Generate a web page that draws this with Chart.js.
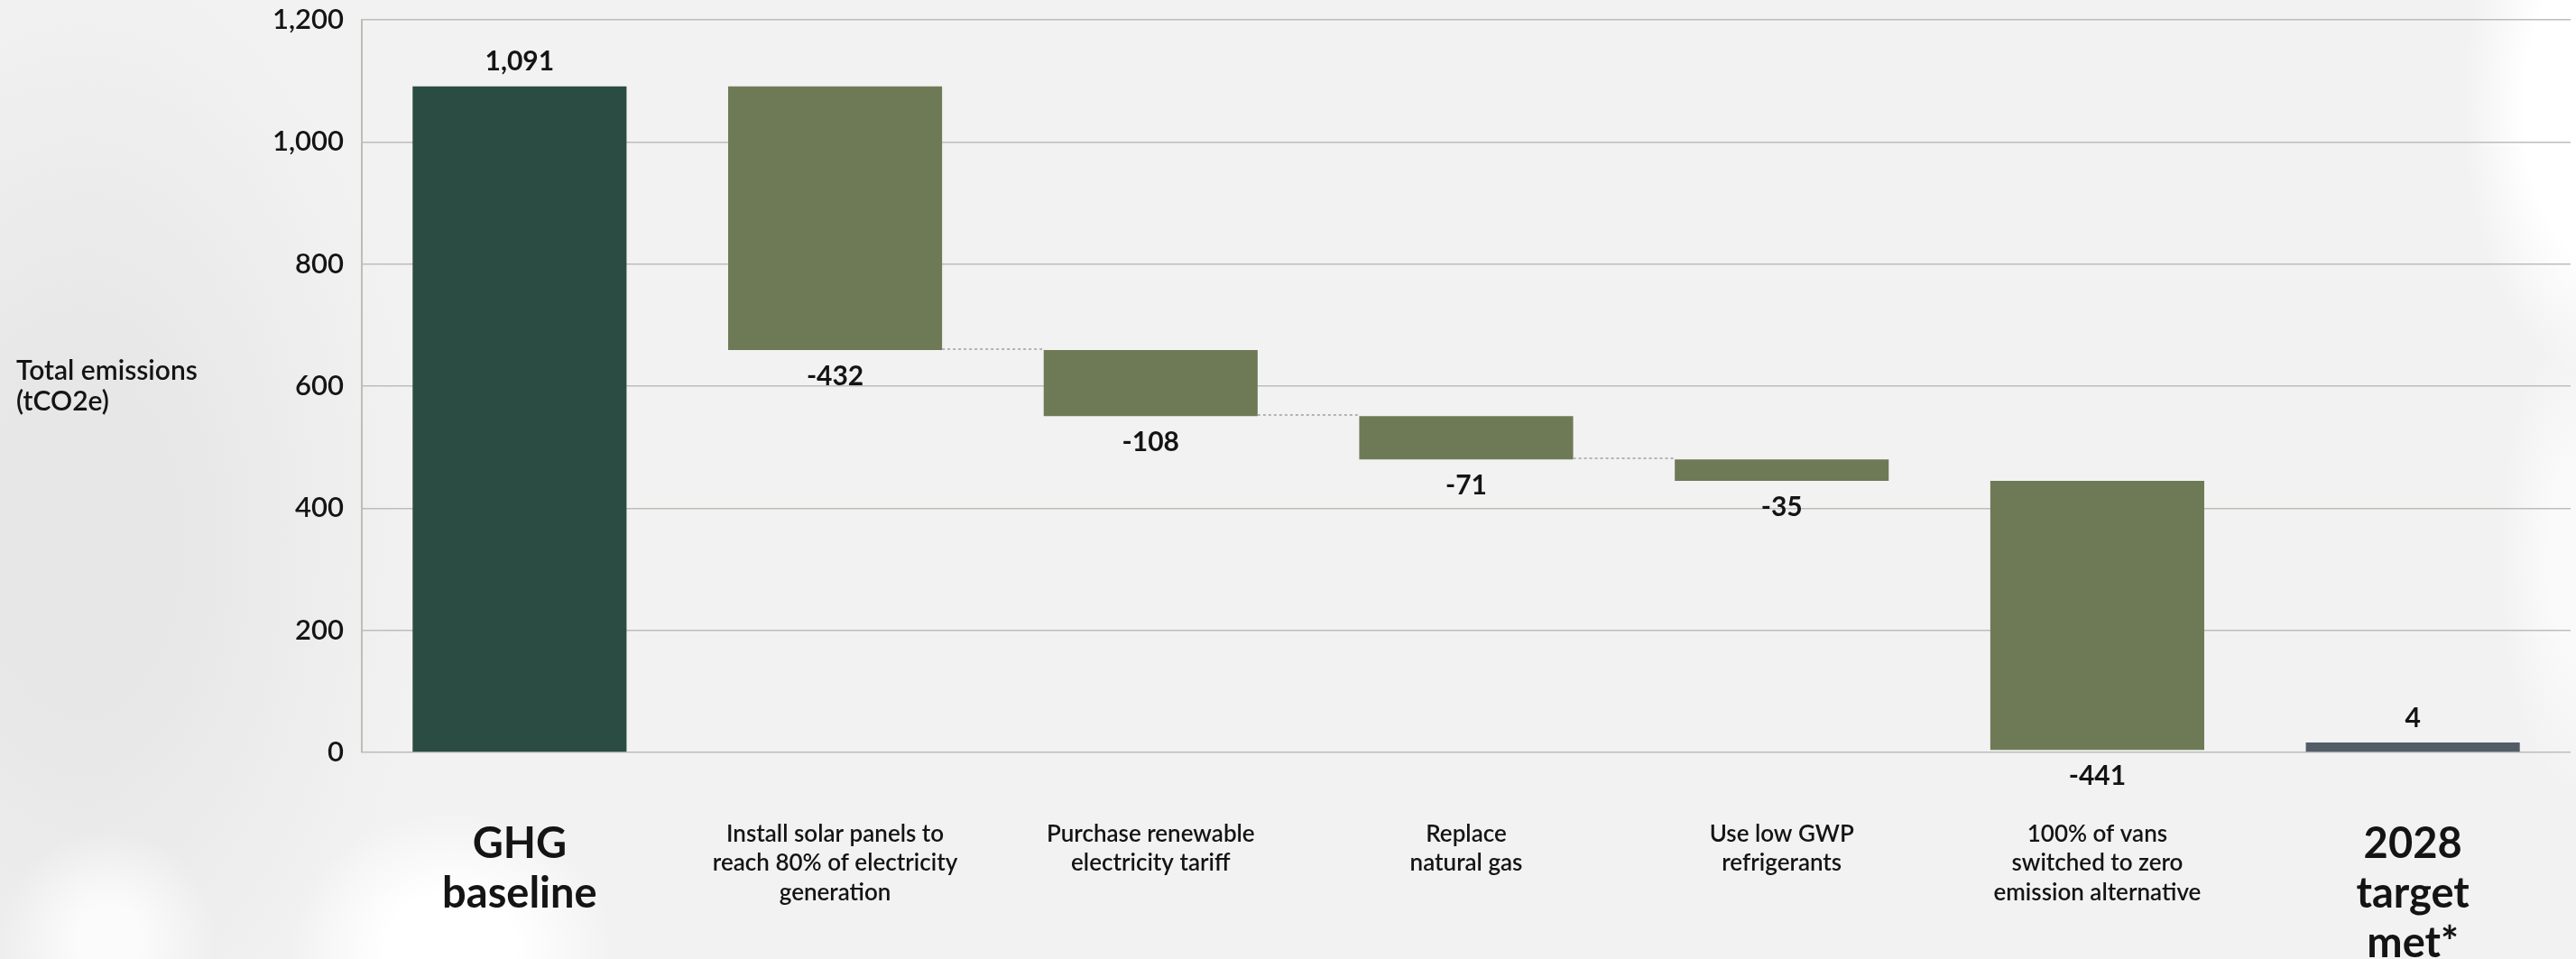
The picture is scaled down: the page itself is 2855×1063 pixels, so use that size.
<!DOCTYPE html>
<html>
<head>
<meta charset="utf-8">
<script src="https://cdn.jsdelivr.net/npm/chart.js@4.4.1/dist/chart.umd.min.js"></script>
<style>
  html, body {
    margin: 0;
    padding: 0;
    width: 2855px;
    height: 1063px;
    overflow: hidden;
    background-color: #f2f2f2;
    background-image:
      radial-gradient(ellipse 150px 300px at 2880px 120px, #ffffff 55%, rgba(255,255,255,0) 100%),
      radial-gradient(ellipse 90px 260px at 2860px 620px, #fafafa 40%, rgba(250,250,250,0) 100%),
      radial-gradient(ellipse 180px 150px at 500px 1050px, #ffffff 40%, rgba(255,255,255,0) 100%),
      radial-gradient(ellipse 120px 120px at 120px 1040px, #fbfbfb 30%, rgba(251,251,251,0) 100%),
      radial-gradient(ellipse 380px 650px at 90px 600px, #e7e7e7 30%, rgba(231,231,231,0) 100%);
  }
  #wrap {
    position: absolute;
    left: 0;
    top: 0;
    width: 2855px;
    height: 1063px;
  }
</style>
</head>
<body>
<div id="wrap"><canvas id="emissionsChart"></canvas></div>
<script>
// waterfall: baseline, reduction steps, remaining total
const categories = [
  ["GHG", "baseline"],
  ["Install solar panels to", "reach 80% of electricity", "generation"],
  ["Purchase renewable", "electricity tariff"],
  ["Replace", "natural gas"],
  ["Use low GWP", "refrigerants"],
  ["100% of vans", "switched to zero", "emission alternative"],
  ["2028", "target", "met*"]
];
const baselineValue = 1091;
const reductions = [-432, -108, -71, -35, -441];
const targetValue = 4;
const yTicks = [0, 200, 400, 600, 800, 1000, 1200];
const yTitle = ["Total emissions", "(tCO2e)"];

const FONT = "Lato, 'Open Sans', sans-serif";
const TEXT = "#141414";

// floating bars built from the running total
const barData = [[0, baselineValue]];
const stepValues = [baselineValue];
let running = baselineValue;
reductions.forEach((r) => {
  barData.push([running, running + r]);
  stepValues.push(r);
  running += r;
});
barData.push(targetValue);
stepValues.push(targetValue);

const barColors = ["#2b4c43"]
  .concat(reductions.map(() => "#6e7a55"))
  .concat(["#535d68"]);

// dotted links between consecutive reduction bars
const connectorFrom = [1, 2, 3];

const valueLabels = {
  id: "valueLabels",
  afterDatasetsDraw(chart) {
    const ctx = chart.ctx;
    const meta = chart.getDatasetMeta(0);
    ctx.save();
    ctx.font = "700 30px " + FONT;
    ctx.fillStyle = TEXT;
    ctx.textAlign = "center";
    ctx.textBaseline = "middle";
    meta.data.forEach((bar, i) => {
      const v = stepValues[i];
      const top = Math.min(bar.y, bar.base);
      const bottom = Math.max(bar.y, bar.base);
      const text = v.toLocaleString("en-US");
      if (v < 0) {
        ctx.fillText(text, bar.x, bottom + 29);
      } else {
        ctx.fillText(text, bar.x, top - 27);
      }
    });
    ctx.restore();
  }
};

const connectors = {
  id: "connectors",
  afterDatasetsDraw(chart) {
    const ctx = chart.ctx;
    const meta = chart.getDatasetMeta(0);
    const y = chart.scales.y;
    ctx.save();
    ctx.strokeStyle = "#b3b3b3";
    ctx.lineWidth = 2;
    ctx.setLineDash([3, 3]);
    connectorFrom.forEach((i) => {
      const a = meta.data[i];
      const b = meta.data[i + 1];
      const level = barData[i][1];
      const py = Math.round(y.getPixelForValue(level)) - 1;
      ctx.beginPath();
      ctx.moveTo(a.x + a.width / 2, py);
      ctx.lineTo(b.x - b.width / 2, py);
      ctx.stroke();
    });
    ctx.restore();
  }
};

const sideTitle = {
  id: "sideTitle",
  afterDraw(chart) {
    const ctx = chart.ctx;
    const area = chart.chartArea;
    const mid = (area.top + area.bottom) / 2;
    ctx.save();
    ctx.font = "600 30px " + FONT;
    ctx.fillStyle = TEXT;
    ctx.textAlign = "left";
    ctx.textBaseline = "middle";
    ctx.fillText(yTitle[0], 18, mid - 17);
    ctx.fillText(yTitle[1], 18, mid + 17);
    ctx.restore();
  }
};

const bigTick = (i) => i === 0 || i === categories.length - 1;

new Chart(document.getElementById("emissionsChart"), {
  type: "bar",
  data: {
    labels: categories,
    datasets: [
      {
        data: barData,
        backgroundColor: barColors,
        borderWidth: 0,
        borderSkipped: false,
        categoryPercentage: 1,
        barPercentage: 0.678,
        minBarLength: 11
      }
    ]
  },
  options: {
    responsive: true,
    maintainAspectRatio: false,
    animation: false,
    layout: { padding: { top: 22, right: 6, left: 0, bottom: 0 } },
    plugins: {
      legend: { display: false },
      tooltip: { enabled: false }
    },
    scales: {
      x: {
        grid: { display: false, drawTicks: false },
        border: { display: false },
        ticks: {
          autoSkip: false,
          maxRotation: 0,
          minRotation: 0,
          padding: 74,
          color: TEXT,
          font: (c) =>
            bigTick(c.index)
              ? { family: FONT, size: 47, weight: "700", lineHeight: 1.17 }
              : { family: FONT, size: 26, weight: "600", lineHeight: 1.25 }
        },
        afterFit: (scale) => {
          scale.height = 229;
        }
      },
      y: {
        min: 0,
        max: 1200,
        afterBuildTicks: (scale) => {
          scale.ticks = yTicks.map((v) => ({ value: v }));
        },
        grid: { color: "#bdbdb8", lineWidth: 1.5, drawTicks: false },
        border: { display: true, color: "#bdbdb8", width: 2 },
        ticks: {
          padding: 20,
          color: TEXT,
          font: { family: FONT, size: 31, weight: "600" },
          callback: (v) => v.toLocaleString("en-US")
        },
        afterFit: (scale) => {
          scale.width = 401;
          scale.paddingTop = 0;
          scale.paddingBottom = 0;
        }
      }
    }
  },
  plugins: [valueLabels, connectors, sideTitle]
});
</script>
</body>
</html>
